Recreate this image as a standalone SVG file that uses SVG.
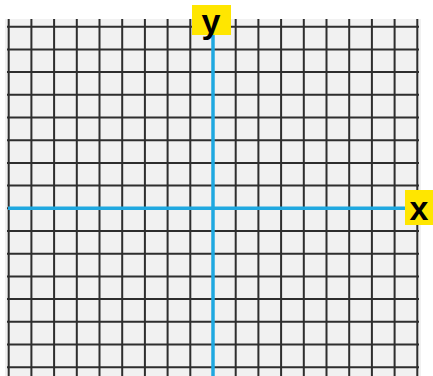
<svg xmlns="http://www.w3.org/2000/svg" width="433" height="376" viewBox="0 0 433 376">
<style>
.grid{stroke:#2e2e2e;stroke-width:2;fill:none}
.axis{stroke:#1fa8e0;stroke-width:3.5;fill:none}
.lbl{fill:#ffe600}
.t{font-family:"Liberation Sans",Arial,sans-serif;font-weight:bold;font-size:34px;fill:#000}
</style>
<rect x="0" y="0" width="433" height="376" fill="#ffffff"/>
<rect x="5" y="19" width="416" height="357" fill="#f1f1f1"/>
<g id="grid" class="grid">
<path d="M8.7 19V376M31.4 19V376M54.1 19V376M76.8 19V376M99.5 19V376M122.2 19V376M144.9 19V376M167.6 19V376M190.3 19V376M213 19V376M235.7 19V376M258.4 19V376M281.1 19V376M303.8 19V376M326.5 19V376M349.2 19V376M371.9 19V376M394.6 19V376M417.3 19V376"/>
<path d="M7 26.7H419M7 49.4H419M7 72.1H419M7 94.8H419M7 117.5H419M7 140.2H419M7 162.9H419M7 185.6H419M7 208.3H419M7 231H419M7 253.7H419M7 276.4H419M7 299.1H419M7 321.8H419M7 344.5H419M7 367.2H419"/>
</g>
<g id="connectors">
<path class="axis" d="M213 30V376"/>
<path class="axis" d="M8 208.3H406"/>
</g>
<g id="y-label">
<rect class="lbl" x="192" y="5" width="39" height="30"/>
<text class="t" x="211" y="33" text-anchor="middle">y</text>
</g>
<g id="x-label">
<rect class="lbl" x="405" y="190" width="28" height="35"/>
<text class="t" x="419" y="220" text-anchor="middle">x</text>
</g>
</svg>
